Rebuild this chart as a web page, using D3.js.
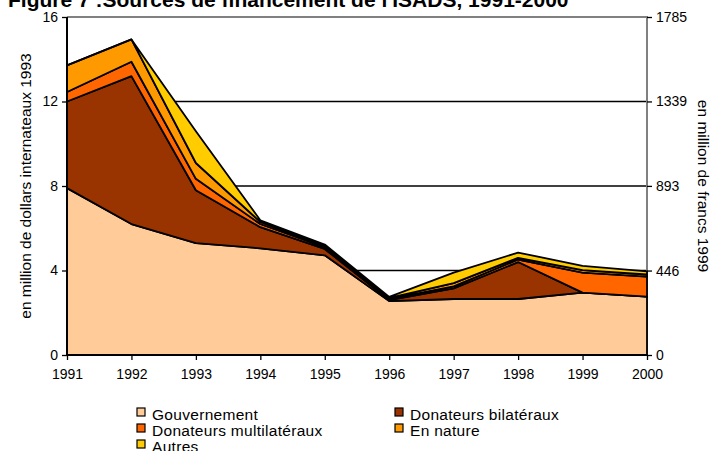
<!DOCTYPE html>
<html>
<head>
<meta charset="utf-8">
<script src="https://cdn.jsdelivr.net/npm/d3@7"></script>
<style>
  body { margin: 0; background: #fff; }
  svg { display: block; font-family: 'Liberation Sans', Arial, sans-serif; }
</style>
</head>
<body>
<div class="container"></div>
<script>
'use strict'

const years = [1991, 1992, 1993, 1994, 1995, 1996, 1997, 1998, 1999, 2000]
const gouvernement = [7.9, 6.2, 5.3, 5.05, 4.72, 2.55, 2.65, 2.65, 2.95, 2.76]
const bilateraux = [4.1, 7.0, 2.5, 1.0, 0.3, 0.05, 0.5, 1.75, 0.0, 0.0]
const multilateraux = [0.45, 0.68, 0.54, 0.15, 0.08, 0.06, 0.1, 0.12, 0.95, 0.95]
const enNature = [1.26, 1.06, 0.75, 0.1, 0.05, 0.04, 0.15, 0.08, 0.12, 0.1]
const autres = [0, 0, 1.5, 0.08, 0.08, 0.05, 0.5, 0.25, 0.2, 0.15]

const seriesNames = ['Gouvernement', 'Donateurs bilatéraux', 'Donateurs multilatéraux', 'En nature', 'Autres']
const seriesColors = ['#FFCC99', '#993300', '#FF6600', '#FF9900', '#FFCC00']
const leftTicks = [0, 4, 8, 12, 16]
const rightTicks = [0, 446, 893, 1339, 1785]

const title = 'Figure 7 :Sources de financement de l\'ISADS, 1991-2000'
const leftLabel = 'en million de dollars internateaux 1993'
const rightLabel = 'en million de francs 1999'

const width = 714
const height = 451
const plotLeft = 67, plotRight = 647, plotTop = 17, plotBottom = 355

const rows = years.map((yr, i) => ({
  year: yr,
  'Gouvernement': gouvernement[i],
  'Donateurs bilatéraux': bilateraux[i],
  'Donateurs multilatéraux': multilateraux[i],
  'En nature': enNature[i],
  'Autres': autres[i]
}))

const svg = d3.select('.container').append('svg')
  .attr('width', width)
  .attr('height', height)

const x = d3.scalePoint().domain(years).range([plotLeft, plotRight])
const y = d3.scaleLinear().domain([0, 16]).range([plotBottom, plotTop])
const yRight = d3.scaleLinear().domain([0, 1785]).range([plotBottom, plotTop])

// title, clipped by the top of the picture like the original
svg.append('text')
  .attr('x', 8)
  .attr('y', 7)
  .style('font-weight', 'bold')
  .style('font-size', '21px')
  .text(title)

// gridlines
svg.append('g')
  .selectAll('line')
  .data(leftTicks.filter(d => d > 0 && d < 16))
  .enter().append('line')
  .attr('x1', plotLeft).attr('x2', plotRight)
  .attr('y1', d => y(d)).attr('y2', d => y(d))
  .attr('stroke', '#000')
  .attr('stroke-width', 1.3)

// plot border top + right in grey
svg.append('path')
  .attr('d', `M${plotLeft},${y(16)}H${plotRight}V${plotBottom}`)
  .attr('fill', 'none')
  .attr('stroke', '#808080')
  .attr('stroke-width', 2)

const stack = d3.stack().keys(seriesNames)
const layers = stack(rows)

const area = d3.area()
  .x(d => x(d.data.year))
  .y0(d => y(d[0]))
  .y1(d => y(d[1]))

svg.append('g')
  .selectAll('path')
  .data(layers)
  .enter().append('path')
  .attr('d', area)
  .attr('fill', (d, i) => seriesColors[i])
  .attr('stroke', '#000')
  .attr('stroke-width', 1.8)
  .attr('stroke-linejoin', 'round')

// axes
const yAxis = d3.axisLeft(y).tickValues(leftTicks).tickSize(5).tickPadding(4)
const gY = svg.append('g')
  .attr('transform', `translate(${plotLeft},0)`)
  .call(yAxis)

const yAxisR = d3.axisRight(yRight).tickValues(rightTicks).tickSize(5).tickPadding(4).tickFormat(d3.format('d'))
const gYR = svg.append('g')
  .attr('transform', `translate(${plotRight},0)`)
  .call(yAxisR)

const xAxis = d3.axisBottom(x).tickSize(5).tickPadding(9).tickFormat(d3.format('d'))
const gX = svg.append('g')
  .attr('transform', `translate(0,${plotBottom})`)
  .call(xAxis)

;[gY, gYR, gX].forEach(g => {
  g.select('.domain').remove()
  g.selectAll('text').style('font-size', '14px').attr('fill', '#000')
  g.selectAll('.tick line').attr('stroke', '#000').attr('stroke-width', 1.3)
})

svg.append('line')
  .attr('x1', plotLeft).attr('x2', plotLeft)
  .attr('y1', plotTop).attr('y2', plotBottom)
  .attr('stroke', '#000').attr('stroke-width', 2)
svg.append('line')
  .attr('x1', plotLeft).attr('x2', plotRight)
  .attr('y1', plotBottom).attr('y2', plotBottom)
  .attr('stroke', '#000').attr('stroke-width', 2)

// axis titles
svg.append('text')
  .attr('transform', `translate(25,${(plotTop + plotBottom) / 2}) rotate(-90)`)
  .attr('text-anchor', 'middle')
  .attr('dominant-baseline', 'central')
  .style('font-size', '15.5px')
  .text(leftLabel)

svg.append('text')
  .attr('transform', `translate(703,${(plotTop + plotBottom) / 2}) rotate(90)`)
  .attr('text-anchor', 'middle')
  .attr('dominant-baseline', 'central')
  .style('font-size', '15.5px')
  .text(rightLabel)

// legend
const legendPos = [[137, 408], [395, 408], [137, 424], [395, 424], [137, 440]]
const legend = svg.append('g')
  .selectAll('g')
  .data(seriesNames)
  .enter().append('g')
  .attr('transform', (d, i) => `translate(${legendPos[i][0]},${legendPos[i][1]})`)

legend.append('rect')
  .attr('width', 8).attr('height', 8)
  .attr('fill', (d, i) => seriesColors[i])
  .attr('stroke', '#000')
  .attr('stroke-width', 1.2)

legend.append('text')
  .attr('x', 15)
  .attr('y', 11.5)
  .style('font-size', '15.5px')
  .style('letter-spacing', '0.3px')
  .text(d => d)
</script>
</body>
</html>
